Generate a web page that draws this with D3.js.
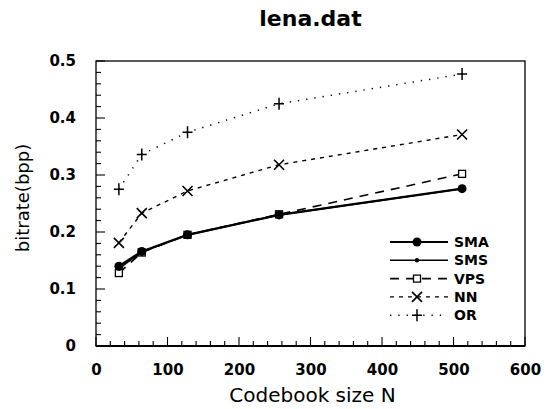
<!DOCTYPE html>
<html>
<head>
<meta charset="utf-8">
<script src="https://cdn.jsdelivr.net/npm/d3@7"></script>
<style>
  body { margin: 0; background: #fff; }
  svg { font-family: "DejaVu Sans", sans-serif; }
</style>
</head>
<body>
<div id="chart"></div>
<script>
// codebook sizes and bitrates
var sizes = [32, 64, 128, 256, 512];
var sma = [0.140, 0.166, 0.195, 0.230, 0.276];
var sms = [0.136, 0.165, 0.195, 0.230, 0.276];
var vps = [0.128, 0.164, 0.195, 0.231, 0.302];
var nn  = [0.181, 0.233, 0.272, 0.318, 0.371];
var or  = [0.275, 0.336, 0.375, 0.425, 0.477];
var seriesNames = ["SMA", "SMS", "VPS", "NN", "OR"];
var xTicks = [0, 100, 200, 300, 400, 500, 600];
var yTicks = [0, 0.1, 0.2, 0.3, 0.4, 0.5];

var series = [
    {name: "SMA", values: sma, dash: null, width: 2.2, marker: "dot"},
    {name: "SMS", values: sms, dash: null, width: 1.6, marker: "smalldot"},
    {name: "VPS", values: vps, dash: "9,7", width: 1.6, marker: "square"},
    {name: "NN",  values: nn,  dash: "4,5", width: 1.4, marker: "cross"},
    {name: "OR",  values: or,  dash: "1.3,7", width: 1.5, marker: "plus"}
];

var W = 554, H = 409
  , margin = {top: 61, right: 29, bottom: 63, left: 96}
  , width = W - margin.left - margin.right
  , height = H - margin.top - margin.bottom
;

var x = d3.scaleLinear().domain([0, 600]).range([0, width]);
var y = d3.scaleLinear().domain([0, 0.5]).range([height, 0]);

var svg = d3.select("#chart").append("svg")
    .attr("width", W)
    .attr("height", H);

svg.append("text")
    .attr("x", margin.left + width / 2)
    .attr("y", 26)
    .attr("text-anchor", "middle")
    .style("font-size", "22px")
    .style("font-weight", "bold")
    .text("lena.dat");

var g = svg.append("g")
    .attr("transform", "translate(" + margin.left + "," + margin.top + ")");

// frame
g.append("rect")
    .attr("width", width)
    .attr("height", height)
    .attr("fill", "none")
    .attr("stroke", "#000")
    .attr("stroke-width", 1.3);

// minor + major ticks pointing inward
var xMinor = d3.range(0, 601, 20);
var yMinor = d3.range(0, 0.501, 0.02);
g.append("g").selectAll("line")
    .data(xMinor)
  .enter().append("line")
    .attr("x1", function(d) { return x(d); })
    .attr("x2", function(d) { return x(d); })
    .attr("y1", height)
    .attr("y2", function(d, i) { return height - (i % 5 === 0 ? 9 : 5); })
    .attr("stroke", "#000")
    .attr("stroke-width", 1.1);
g.append("g").selectAll("line")
    .data(yMinor)
  .enter().append("line")
    .attr("y1", function(d) { return y(d); })
    .attr("y2", function(d) { return y(d); })
    .attr("x1", 0)
    .attr("x2", function(d, i) { return i % 5 === 0 ? 9 : 5; })
    .attr("stroke", "#000")
    .attr("stroke-width", 1.1);
g.append("line")
    .attr("x1", 0).attr("x2", width)
    .attr("y1", height).attr("y2", height)
    .attr("stroke", "#000").attr("stroke-width", 2);

// tick labels
var xAxis = d3.axisBottom(x).tickValues(xTicks).tickSize(0).tickPadding(18)
    .tickFormat(d3.format("d"));
var yAxis = d3.axisLeft(y).tickValues(yTicks).tickSize(0).tickPadding(20)
    .tickFormat(function(d) { return d === 0 ? "0" : d3.format(".1f")(d); });
g.append("g")
    .attr("transform", "translate(0," + height + ")")
    .call(xAxis)
    .call(function(s) { s.select(".domain").remove(); })
    .selectAll("text")
    .style("font-size", "15px")
    .style("font-weight", "bold")
    .style("font-family", "DejaVu Sans, sans-serif")
    .attr("fill", "#000");
g.append("g")
    .call(yAxis)
    .call(function(s) { s.select(".domain").remove(); })
    .selectAll("text")
    .style("font-size", "15px")
    .style("font-weight", "bold")
    .style("font-family", "DejaVu Sans, sans-serif")
    .attr("fill", "#000");

svg.append("text")
    .attr("x", margin.left + width / 2 + 2)
    .attr("y", 402)
    .attr("text-anchor", "middle")
    .style("font-size", "20px")
    .text("Codebook size N");

svg.append("text")
    .attr("transform", "translate(29,198) rotate(-90)")
    .attr("text-anchor", "middle")
    .style("font-size", "18px")
    .text("bitrate(bpp)");

function drawMarker(sel, type, cx, cy) {
    if (type === "dot") {
        sel.append("circle").attr("cx", cx).attr("cy", cy).attr("r", 4.5).attr("fill", "#000");
    } else if (type === "smalldot") {
        sel.append("circle").attr("cx", cx).attr("cy", cy).attr("r", 2.2).attr("fill", "#000");
    } else if (type === "square") {
        sel.append("rect").attr("x", cx - 3.5).attr("y", cy - 3.5).attr("width", 7).attr("height", 7)
            .attr("fill", "#fff").attr("stroke", "#000").attr("stroke-width", 1.3);
    } else if (type === "cross") {
        sel.append("path").attr("d", "M" + (cx - 5) + "," + (cy - 5) + "L" + (cx + 5) + "," + (cy + 5) +
            "M" + (cx - 5) + "," + (cy + 5) + "L" + (cx + 5) + "," + (cy - 5))
            .attr("stroke", "#000").attr("stroke-width", 1.6);
    } else if (type === "plus") {
        sel.append("path").attr("d", "M" + (cx - 5) + "," + cy + "L" + (cx + 5) + "," + cy +
            "M" + cx + "," + (cy - 6) + "L" + cx + "," + (cy + 6))
            .attr("stroke", "#000").attr("stroke-width", 1.5);
    }
}

var line = d3.line()
    .x(function(d) { return x(d[0]); })
    .y(function(d) { return y(d[1]); });

// draw back-to-front so the solid lines sit on top
series.slice().reverse().forEach(function(s) {
    var pts = sizes.map(function(n, i) { return [n, s.values[i]]; });
    g.append("path")
        .datum(pts)
        .attr("d", line)
        .attr("fill", "none")
        .attr("stroke", "#000")
        .attr("stroke-width", s.width)
        .attr("stroke-dasharray", s.dash);
    var mg = g.append("g");
    pts.forEach(function(p) { drawMarker(mg, s.marker, x(p[0]), y(p[1])); });
});

// legend
var legend = svg.append("g");
series.forEach(function(s, i) {
    var ly = 242 + i * 18.3;
    legend.append("line")
        .attr("x1", 390).attr("x2", 448)
        .attr("y1", ly).attr("y2", ly)
        .attr("stroke", "#000")
        .attr("stroke-width", s.width)
        .attr("stroke-dasharray", s.dash);
    drawMarker(legend, s.marker, 417, ly);
    legend.append("text")
        .attr("x", 454)
        .attr("y", ly + 5)
        .style("font-size", "14px")
        .style("font-weight", "bold")
        .text(seriesNames[i]);
});
</script>
</body>
</html>
